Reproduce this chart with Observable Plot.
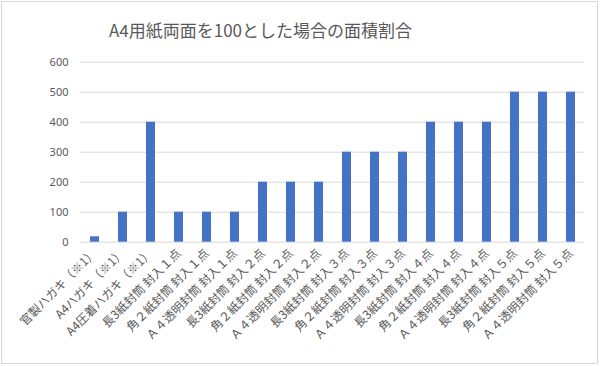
<!DOCTYPE html>
<html><head><meta charset="utf-8">
<script src="https://cdn.jsdelivr.net/npm/d3@7"></script>
<script src="https://cdn.jsdelivr.net/npm/@observablehq/plot@0.6"></script>
<style>
body{margin:0;background:#fff;}
#wrap{position:relative;width:600px;height:366px;overflow:hidden;background:#fff;}
#frame{position:absolute;left:1px;top:1px;width:595px;height:361px;border:1px solid #d9d9d9;pointer-events:none;}
#title{position:absolute;left:0;top:17px;width:521px;text-align:center;font-family:"Noto Sans CJK JP",sans-serif;font-size:17px;color:#595959;white-space:nowrap;}
#chart{position:absolute;left:0;top:0;}
</style></head>
<body>
<div id="wrap"><div id="chart"></div><div id="title">A4用紙両面を100とした場合の面積割合</div><div id="frame"></div></div>
<script>
const categories = [
  "官製ハガキ（※1）","A4ハガキ（※1）","A4圧着ハガキ（※1）",
  "長3紙封筒 封入１点","角２紙封筒 封入１点","Ａ４透明封筒 封入１点",
  "長3紙封筒 封入２点","角２紙封筒 封入２点","Ａ４透明封筒 封入２点",
  "長3紙封筒 封入３点","角２紙封筒 封入３点","Ａ４透明封筒 封入３点",
  "長3紙封筒 封入４点","角２紙封筒 封入４点","Ａ４透明封筒 封入４点",
  "長3紙封筒 封入５点","角２紙封筒 封入５点","Ａ４透明封筒 封入５点"
];
const values = [18,100,400,100,100,100,200,200,200,300,300,300,400,400,400,500,500,500];
const yTicks = [0,100,200,300,400,500,600];
const data = categories.map((c,i)=>({cat:c, v:values[i]}));

const chart = Plot.plot({
  width:600, height:366,
  marginTop:61.7, marginBottom:124.3, marginLeft:80, marginRight:16,
  style:{fontFamily:"'Noto Sans CJK JP', sans-serif", color:"#595959", background:"transparent"},
  x:{domain:categories, paddingInner:0.68, paddingOuter:0.34, label:null},
  y:{domain:[0,600], label:null},
  marks:[
    Plot.ruleY(yTicks, {stroke:"#d9d9d9", strokeWidth:1}),
    Plot.barY(data, {x:"cat", y:"v", fill:"#4472C4"}),
    Plot.axisY(yTicks, {tickSize:0, tickPadding:12, fontSize:11, fill:"#595959", fontFamily:"'Noto Sans', sans-serif", label:null}),
    Plot.axisX({tickSize:0, tickPadding:9, tickRotate:-45, textAnchor:"end", fontSize:12, fill:"#595959", label:null})
  ]
});
document.getElementById("chart").appendChild(chart);
</script>
</body></html>
